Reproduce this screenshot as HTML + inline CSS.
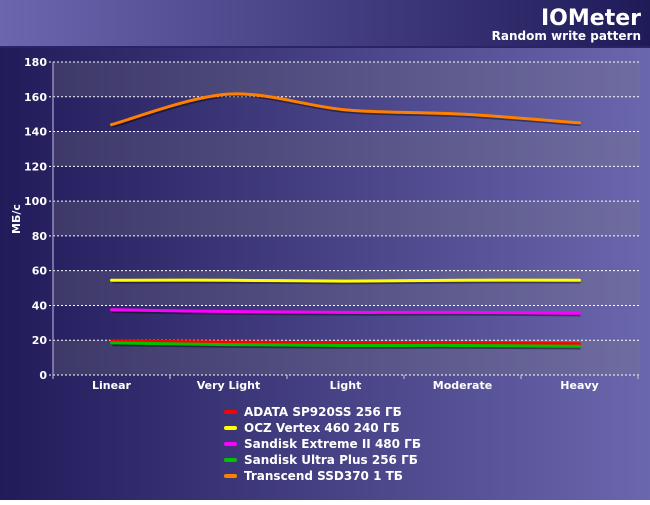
<!DOCTYPE html>
<html><head><meta charset="utf-8"><style>
body{margin:0;width:650px;height:500px;overflow:hidden;font-family:"Liberation Sans","DejaVu Sans",sans-serif}
svg text{font-family:"DejaVu Sans","Liberation Sans",sans-serif;font-weight:bold;fill:#fff}
</style></head><body>
<svg id="c" width="650" height="500" xmlns="http://www.w3.org/2000/svg">
<defs>
<linearGradient id="hg" x1="0" x2="1"><stop offset="0" stop-color="#6b66ae"/><stop offset="1" stop-color="#1f1a58"/></linearGradient>
<linearGradient id="bg" x1="0" x2="1"><stop offset="0" stop-color="#211b5a"/><stop offset="1" stop-color="#6b67ae"/></linearGradient>
</defs>
<rect width="650" height="500" fill="url(#bg)"/>
<rect width="650" height="47" fill="url(#hg)"/>
<rect y="46" width="650" height="2" fill="#2a2466"/>
<text x="641" y="25" text-anchor="end" font-size="22">IOMeter</text>
<text x="641" y="40" text-anchor="end" font-size="12">Random write pattern</text>
<text transform="translate(20,219) rotate(-90)" text-anchor="middle" font-size="11">МБ/с</text>
<g id="grid"></g><g id="series"></g><g id="legend"></g>
</svg>
<script>
const categories=["Linear","Very Light","Light","Moderate","Heavy"];
const yTicks=[0,20,40,60,80,100,120,140,160,180];
const seriesNames=["ADATA SP920SS 256 ГБ","OCZ Vertex 460 240 ГБ","Sandisk Extreme II 480 ГБ","Sandisk Ultra Plus 256 ГБ","Transcend SSD370 1 ТБ"];
const seriesColors=["#ff0000","#ffff00","#ff00ff","#00c000","#ff8000"];
const adata=[19.5,19,18.5,18.5,18];
const ocz=[54.5,54.5,54,54.5,54.5];
const extreme=[37.5,36.5,36,36,35.5];
const ultra=[18.5,17.5,17,17,16.5];
const transcend=[144,161.5,152.5,150,145];
const allSeries=[adata,ocz,extreme,ultra,transcend];
const NS="http://www.w3.org/2000/svg";
const X0=53,X1=638,Y0=375,Y1=62;
const step=(X1-X0)/categories.length;
const xs=i=>X0+step*(i+0.5);
const ys=v=>Y0-(v/180)*(Y0-Y1);
function mk(t,a,p){const e=document.createElementNS(NS,t);for(const k in a)e.setAttribute(k,a[k]);p.appendChild(e);return e;}
const g=document.getElementById('grid');
for(let i=0;i<yTicks.length-1;i+=2){
 const r=mk('rect',{x:X0,y:ys(yTicks[i+1]),width:X1-X0+2,height:ys(yTicks[i])-ys(yTicks[i+1]),fill:'rgba(128,128,128,0.25)'},g);
 
 
}
yTicks.forEach(v=>{
 const l=mk('line',{x1:X0-4,x2:X1+2,y1:ys(v),y2:ys(v),stroke:'#fff','stroke-width':1,'stroke-dasharray':'2,2'},g);
 
 
 const t=mk('text',{x:X0-6,y:ys(v)+4,'text-anchor':'end','font-size':11},g);t.textContent=v;
 
 
});
const ax=mk('line',{x1:X0,x2:X0,y1:Y1,y2:Y0,stroke:'#a9a6cc','stroke-width':1.2},g);


for(let i=0;i<=categories.length;i++){mk('line',{x1:X0+step*i,x2:X0+step*i,y1:Y0,y2:Y0+4,stroke:'#ccc'},g);}
categories.forEach((c,i)=>{
 const t=mk('text',{x:xs(i),y:Y0+14,'text-anchor':'middle','font-size':11},g);t.textContent=c;
 
 
});
function path(vals){
 const p=vals.map((v,i)=>[xs(i),ys(v)]);
 let d='M'+p[0][0]+','+p[0][1];
 for(let i=0;i<p.length-1;i++){
  const p0=p[Math.max(i-1,0)],p1=p[i],p2=p[i+1],p3=p[Math.min(i+2,p.length-1)];
  const c1=[p1[0]+(p2[0]-p0[0])/6,p1[1]+(p2[1]-p0[1])/6],c2=[p2[0]-(p3[0]-p1[0])/6,p2[1]-(p3[1]-p1[1])/6];
  d+=' C'+c1+' '+c2+' '+p2;
 }
 return d;
}
const s=document.getElementById('series');
allSeries.forEach((vals,k)=>{
 mk('path',{d:path(vals),fill:'none',stroke:'rgba(0,0,0,0.4)','stroke-width':3.5,transform:'translate(1,1.5)'},s);
 const pth=mk('path',{d:path(vals),fill:'none',stroke:seriesColors[k],'stroke-width':3,'stroke-linecap':'round'},s);
 
 
});
const lg=document.getElementById('legend');
seriesNames.forEach((n,k)=>{
 const y=412+16*k;
 const m=mk('line',{x1:226,x2:235,y1:y,y2:y,stroke:seriesColors[k],'stroke-width':4,'stroke-linecap':'round'},lg);
 
 
 const t=mk('text',{x:244,y:y+4,'font-size':12},lg);t.textContent=n;
 
 
});
</script>
</body></html>
